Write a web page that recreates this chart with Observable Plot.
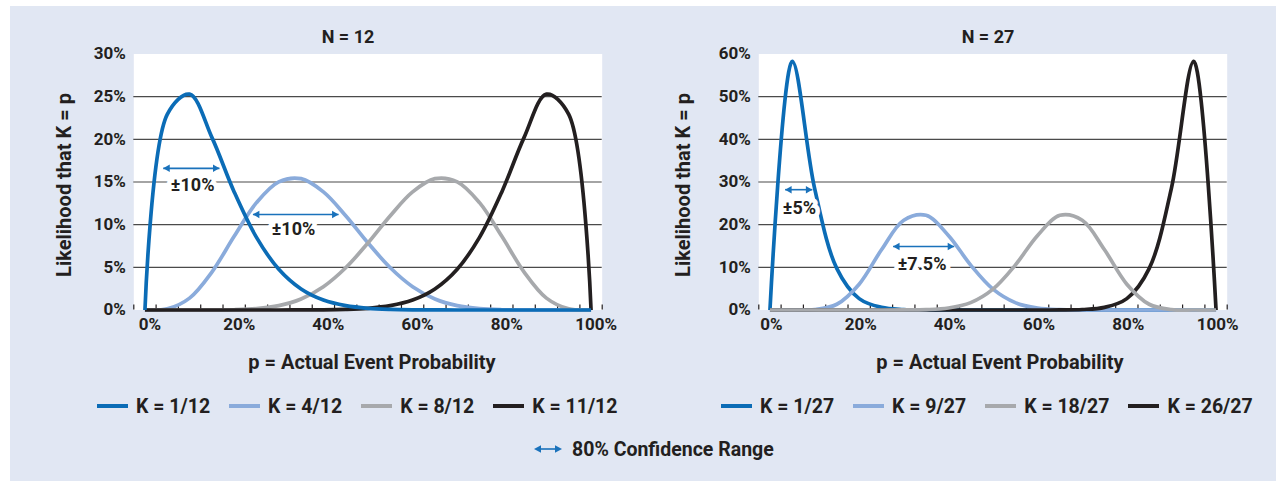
<!DOCTYPE html>
<html>
<head>
<meta charset="utf-8">
<script src="https://cdn.jsdelivr.net/npm/d3@7"></script>
<script src="https://cdn.jsdelivr.net/npm/@observablehq/plot@0.6"></script>
<style>
  html, body { margin: 0; padding: 0; background: #ffffff; }
  #root { position: relative; width: 1276px; height: 481px; overflow: hidden; font-family: Roboto, "Noto Sans", sans-serif; color: #231f20; }
  #bg { position: absolute; left: 10px; top: 6px; right: 0; bottom: 0; background: #e1e7f3; }
  .panel { position: absolute; top: 0; }
  .legend { position: absolute; display: flex; align-items: center; font-weight: bold; font-size: 19.5px; white-space: nowrap; height: 24px; }
  .legend .sw { width: 31px; height: 4px; margin-right: 8px; }
  .legend .lab { margin-right: 19px; }
</style>
</head>
<body>
<div id="root">
  <div id="bg"></div>
  <div id="left" class="panel" style="left:0px"></div>
  <div id="right" class="panel" style="left:638px"></div>
  <div id="legend12" class="legend" style="left:97px; top:394px"></div>
  <div id="legend27" class="legend" style="left:721px; top:394px"></div>
  <div id="legendArrow" class="legend" style="left:534px; top:437px"></div>
</div>
<script>
// ---------- data ----------
const pValues = [0, 5, 10, 15, 20, 25, 30, 35, 40, 45, 50, 55, 60, 65, 70, 75, 80, 85, 90, 95, 100];

// N = 12 panel (likelihood, %)
const n12k1  = [0, 22.92, 25.29, 20.23, 13.84, 8.51, 4.78, 2.47, 1.17, 0.51, 0.20, 0.07, 0.02, 0.01, 0, 0, 0, 0, 0, 0, 0];
const n12k4  = [0, 0.13, 1.39, 4.44, 8.64, 12.58, 15.02, 15.39, 13.84, 11.05, 7.86, 4.95, 2.73, 1.29, 0.51, 0.16, 0.03, 0, 0, 0, 0];
const n12k8  = [0, 0, 0, 0, 0.03, 0.16, 0.51, 1.29, 2.73, 4.95, 7.86, 11.05, 13.84, 15.39, 15.02, 12.58, 8.64, 4.44, 1.39, 0.13, 0];
const n12k11 = [0, 0, 0, 0, 0, 0, 0, 0.01, 0.02, 0.07, 0.20, 0.51, 1.17, 2.47, 4.78, 8.51, 13.84, 20.23, 25.29, 22.92, 0];

// N = 27 panel (likelihood, %)
const n27k1  = [0, 58.28, 28.58, 9.70, 2.67, 0.62, 0.12, 0.02, 0, 0, 0, 0, 0, 0, 0, 0, 0, 0, 0, 0, 0];
const n27k9  = [0, 0, 0.10, 1.35, 6.05, 14.11, 21.03, 22.19, 17.47, 10.53, 4.89, 1.73, 0.46, 0.08, 0.01, 0, 0, 0, 0, 0, 0];
const n27k18 = [0, 0, 0, 0, 0, 0, 0.01, 0.08, 0.46, 1.73, 4.89, 10.53, 17.47, 22.19, 21.03, 14.11, 6.05, 1.35, 0.10, 0, 0];
const n27k26 = [0, 0, 0, 0, 0, 0, 0, 0, 0, 0, 0, 0, 0, 0.02, 0.12, 0.62, 2.67, 9.70, 28.58, 58.28, 0];

const names12 = ["K = 1/12", "K = 4/12", "K = 8/12", "K = 11/12"];
const names27 = ["K = 1/27", "K = 9/27", "K = 18/27", "K = 26/27"];
const seriesColors = ["#0b6cb6", "#8aabdb", "#a7a9ac", "#231f20"];

const yTicks12 = [0, 5, 10, 15, 20, 25, 30];
const yGrid12 = [5, 10, 15, 20, 25];
const yTicks27 = [0, 10, 20, 30, 40, 50, 60];
const yGrid27 = [10, 20, 30, 40, 50];
const xTickLabels = [0, 20, 40, 60, 80, 100];
const xTickMarks = [-2.5, 2.5, 7.5, 12.5, 17.5, 22.5, 27.5, 32.5, 37.5, 42.5, 47.5, 52.5, 57.5, 62.5, 67.5, 72.5, 77.5, 82.5, 87.5, 92.5, 97.5, 102.5];

// 80% confidence-range annotations
const arrow12Start = [4.1, 24.2];
const arrow12End   = [16.7, 43.4];
const arrow12Y     = [16.6, 11.2];
const label12Text  = ["±10%", "±10%"];
const label12X     = [10.7, 33.3];
const label12Y     = [14.6, 9.5];

const arrow27Start = [3.4, 27.6];
const arrow27End   = [9.5, 41.3];
const arrow27Y     = [28.2, 14.9];
const label27Text  = ["±5%", "±7.5%"];
const label27X     = [6.6, 34.1];
const label27Y     = [23.9, 10.8];

const titles = ["N = 12", "N = 27"];
const xLabel = "p = Actual Event Probability";
const yLabel = "Likelihood that K = p";
const arrowLegend = "80% Confidence Range";

// ---------- build ----------
const ink = "#231f20";
const arrowColor = "#1a72bb";

function toRows(values, name) {
  return pValues.map((p, i) => ({p, v: values[i], k: name}));
}

function panel(opts) {
  const {series, names, drawOrder, yMax, yTicks, yGrid, arrows, labels, title, marginLeft, marginRight, titleDx, xLabelDx, yLabelDx, xTickDx} = opts;
  const arrowRows = arrows.start.map((s, i) => ({x1: s, x2: arrows.end[i], y: arrows.y[i]}));
  const labelRows = labels.text.map((t, i) => ({t, x: labels.x[i], y: labels.y[i]}));
  const lines = drawOrder.map(i => Plot.line(toRows(series[i], names[i]), {
    x: "p", y: "v", stroke: seriesColors[i], strokeWidth: 3.7, curve: "catmull-rom", strokeLinejoin: "round", strokeLinecap: "butt"
  }));
  return Plot.plot({
    width: 638,
    height: 390,
    marginLeft, marginRight,
    marginTop: 53.5,
    marginBottom: 80.5,
    style: {fontFamily: "Roboto, 'Noto Sans', sans-serif", color: ink, background: "transparent", overflow: "visible"},
    x: {domain: [-2.5, 102.5]},
    y: {domain: [0, yMax]},
    marks: [
      Plot.frame({fill: "white", stroke: "none"}),
      Plot.ruleY(yGrid, {stroke: "#4a4a4a", strokeWidth: 1.1}),
      Plot.axisX(xTickMarks, {tickSize: 5, dy: -5, tickFormat: () => "", label: null, stroke: ink, strokeWidth: 1.2}),
      Plot.axisX(xTickLabels, {tickSize: 0, tickPadding: 8, dx: xTickDx, tickFormat: d => d + "%", label: null, fontSize: 17, fontWeight: "bold", fill: ink}),
      Plot.axisY(yTicks, {tickSize: 0, tickPadding: 8, tickFormat: d => d + "%", label: null, fontSize: 17, fontWeight: "bold", fill: ink}),
      ...lines,
      Plot.link(arrowRows, {x1: "x1", x2: "x2", y1: "y", y2: "y", stroke: arrowColor, strokeWidth: 1.6}),
      Plot.dot(arrowRows, {x: "x2", y: "y", symbol: "triangle2", r: 3.6, rotate: 90, dx: -4.3, fill: arrowColor, stroke: "none"}),
      Plot.dot(arrowRows, {x: "x1", y: "y", symbol: "triangle2", r: 3.6, rotate: -90, dx: 4.3, fill: arrowColor, stroke: "none"}),
      Plot.text(labelRows, {x: "x", y: "y", text: "t", fontSize: 18, fontWeight: "bold", fill: ink, stroke: "white", strokeWidth: 9, lineAnchor: "middle"}),
      Plot.text([title], {text: d => d, frameAnchor: "top", lineAnchor: "middle", textAnchor: "middle", dy: -16.5, dx: titleDx, fontSize: 18, fontWeight: "bold", fill: ink}),
      Plot.text([xLabel], {text: d => d, frameAnchor: "bottom", lineAnchor: "middle", textAnchor: "middle", dy: 52.5, dx: xLabelDx, fontSize: 20, fontWeight: "bold", fill: ink}),
      Plot.text([yLabel], {text: d => d, frameAnchor: "left", lineAnchor: "middle", textAnchor: "middle", rotate: -90, dx: yLabelDx, dy: 3, fontSize: 20, fontWeight: "bold", fill: ink})
    ]
  });
}

document.getElementById("left").append(panel({
  series: [n12k1, n12k4, n12k8, n12k11], names: names12, drawOrder: [1, 2, 3, 0],
  yMax: 30, yTicks: yTicks12, yGrid: yGrid12,
  arrows: {start: arrow12Start, end: arrow12End, y: arrow12Y},
  labels: {text: label12Text, x: label12X, y: label12Y},
  title: titles[0], marginLeft: 133.3, marginRight: 36.3, titleDx: -20, xLabelDx: 4, yLabelDx: -69, xTickDx: 5
}));
document.getElementById("right").append(panel({
  series: [n27k1, n27k9, n27k18, n27k26], names: names27, drawOrder: [0, 1, 3, 2],
  yMax: 60, yTicks: yTicks27, yGrid: yGrid27,
  arrows: {start: arrow27Start, end: arrow27End, y: arrow27Y},
  labels: {text: label27Text, x: label27X, y: label27Y},
  title: titles[1], marginLeft: 120.3, marginRight: 49.3, titleDx: -5, xLabelDx: 7, yLabelDx: -75, xTickDx: 1.5
}));

function buildLegend(id, names) {
  const el = document.getElementById(id);
  names.forEach((n, i) => {
    const sw = document.createElement("div");
    sw.className = "sw";
    sw.style.background = seriesColors[i];
    const lab = document.createElement("span");
    lab.className = "lab";
    lab.textContent = n;
    el.append(sw, lab);
  });
}
buildLegend("legend12", names12);
buildLegend("legend27", names27);

const la = document.getElementById("legendArrow");
la.innerHTML = `<svg width="28" height="10" style="margin-right:10px"><line x1="5" y1="5" x2="23" y2="5" stroke="${arrowColor}" stroke-width="1.6"/><path d="M0,5L7,1.3L7,8.7Z" fill="${arrowColor}"/><path d="M28,5L21,1.3L21,8.7Z" fill="${arrowColor}"/></svg><span></span>`;
la.querySelector("span").textContent = arrowLegend;
</script>
</body>
</html>
